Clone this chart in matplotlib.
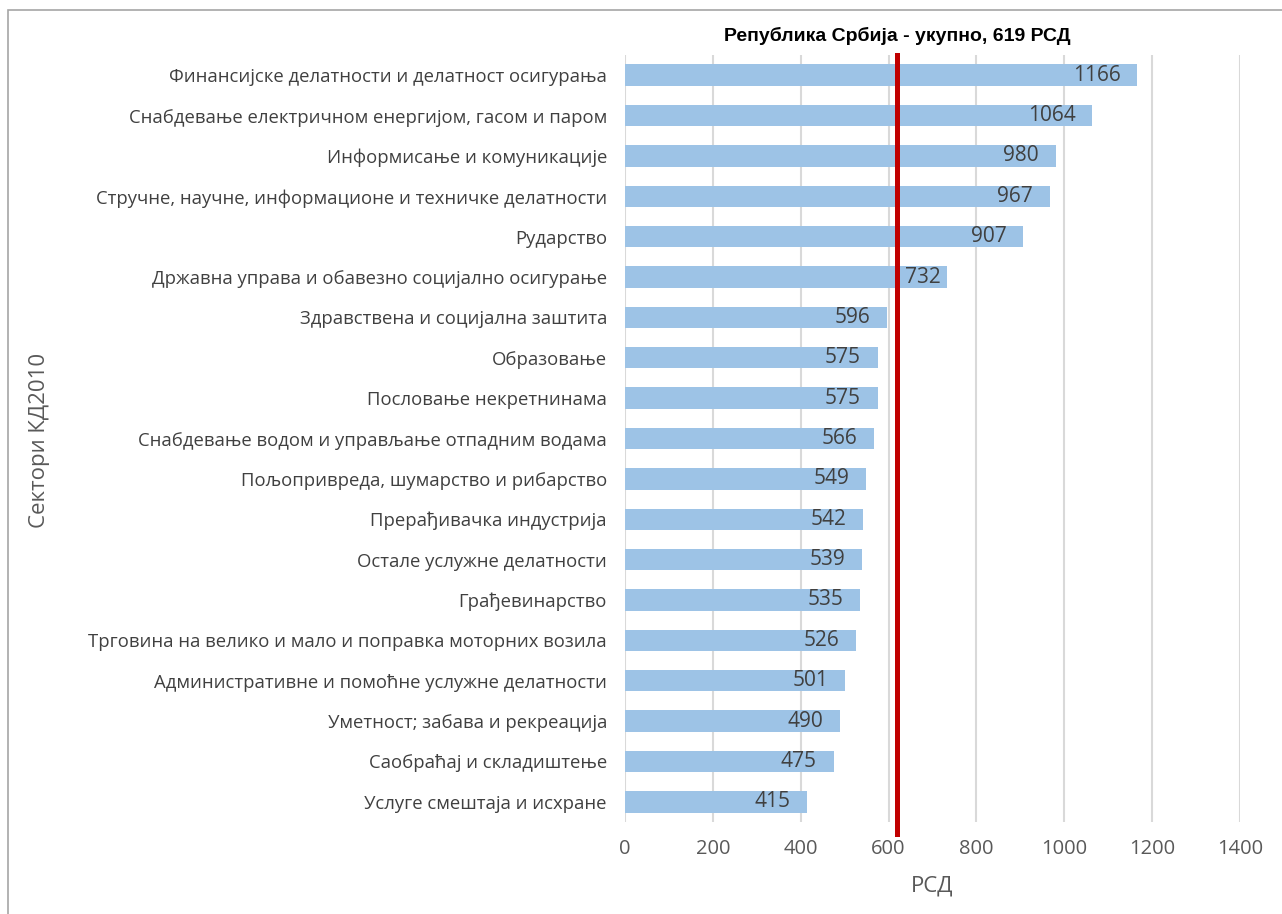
import matplotlib.pyplot as plt
from matplotlib.patches import Rectangle

sectors = [
    "Финансијске делатности и делатност осигурања",
    "Снабдевање електричном енергијом, гасом и паром",
    "Информисање и комуникације",
    "Стручне, научне, информационе и техничке делатности",
    "Рударство",
    "Државна управа и обавезно социјално осигурање",
    "Здравствена и социјална заштита",
    "Образовање",
    "Пословање некретнинама",
    "Снабдевање водом и управљање отпадним водама",
    "Пољопривреда, шумарство и рибарство",
    "Прерађивачка индустрија",
    "Остале услужне делатности",
    "Грађевинарство",
    "Трговина на велико и мало и поправка моторних возила",
    "Административне и помоћне услужне делатности",
    "Уметност; забава и рекреација",
    "Саобраћај и складиштење",
    "Услуге смештаја и исхране",
]
values = [1166, 1064, 980, 967, 907, 732, 596, 575, 575, 566, 549, 542, 539, 535, 526, 501, 490, 475, 415]
total = 619
title = "Република Србија - укупно, 619 РСД"
x_ticks = [0, 200, 400, 600, 800, 1000, 1200, 1400]

plt.rcParams['font.family'] = ['Open Sans', 'DejaVu Sans']

fig = plt.figure(figsize=(12.82, 9.14), dpi=100)
ax = fig.add_axes([625 / 1282, 1 - 822 / 914, 615 / 1282, 767 / 914])

y = list(range(len(values)))
ax.barh(y, values, height=0.53, color='#9DC3E6', zorder=2)
for yi, v in zip(y, values):
    # label moved out from under the red line when it would overlap it
    off = -4 if total < v < total + 150 else -12
    ax.annotate(str(v), (v, yi), xytext=(off, 0), textcoords='offset points',
                ha='right', va='center', fontsize=15, color='#404040', zorder=4)

ax.set_ylim(len(values) - 0.5, -0.5)
ax.set_xlim(0, 1400)
ax.set_xticks(x_ticks)
ax.set_yticks(y)
ax.set_yticklabels(sectors, fontsize=13.3, color='#404040')
ax.tick_params(axis='x', labelsize=14.5, labelcolor='#595959', length=0, pad=12)
ax.tick_params(axis='y', length=0, pad=13)
ax.grid(axis='x', color='#D9D9D9', linewidth=1.5, zorder=0)
for s in ax.spines.values():
    s.set_visible(False)

ax.plot([total, total], [1.0, -0.016], transform=ax.get_xaxis_transform(),
        color='#C00000', linewidth=3.6, clip_on=False, zorder=5)
ax.text(total, 1.025, title, transform=ax.get_xaxis_transform(),
        ha='center', va='center', fontsize=14, fontweight='bold', color='black',
        family=['Liberation Sans', 'DejaVu Sans'])

ax.set_xlabel('РСД', fontsize=16, color='#595959', labelpad=12)
fig.text(40 / 1282, 1 - 440 / 914, 'Сектори КД2010', rotation=90, ha='center', va='center',
         fontsize=16, color='#595959')

fig.add_artist(Rectangle((8 / 1282, -0.01), 1.0, 1 - 10 / 914 + 0.01, transform=fig.transFigure,
                         fill=False, edgecolor='#A6A6A6', linewidth=1.2))

fig.savefig('out.png', dpi=100)
